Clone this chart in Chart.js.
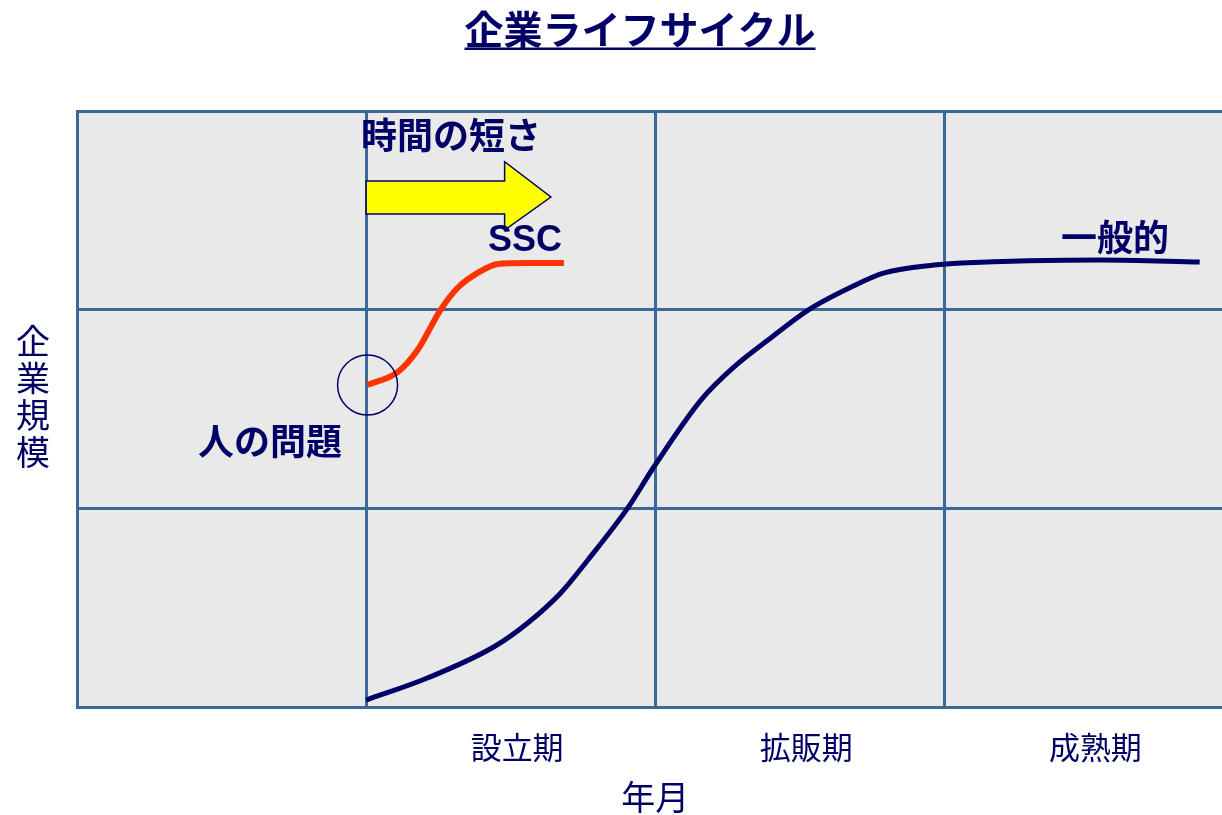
<!DOCTYPE html>
<html>
<head>
<meta charset="utf-8">
<script src="https://cdn.jsdelivr.net/npm/chart.js@4/dist/chart.umd.min.js"></script>
<style>
html,body{margin:0;padding:0;background:#fff;overflow:hidden;}
#wrap{width:1265px;height:815px;}
</style>
</head>
<body>
<div id="wrap"><canvas id="c" width="1265" height="815"></canvas></div>
<script>
// ---- data ----
const xTickLabels = ["", "設立期", "拡販期", "成熟期", ""];
const generalX = [1.00, 1.212, 1.441, 1.559, 1.673, 1.767, 1.905, 1.995, 2.158, 2.272, 2.390, 2.529, 2.678, 2.792, 2.965, 3.059, 3.544, 3.883];
const generalY = [0.035, 0.146, 0.302, 0.423, 0.574, 0.740, 1.002, 1.208, 1.545, 1.711, 1.847, 1.998, 2.114, 2.185, 2.225, 2.235, 2.250, 2.240];
const sscX = [1.005, 1.109, 1.178, 1.257, 1.316, 1.386, 1.455, 1.559, 1.684];
const sscY = [1.621, 1.686, 1.797, 1.998, 2.109, 2.185, 2.230, 2.235, 2.235];
const titleText = "企業ライフサイクル";
const xTitle = "年月";
const yTitle = "企業規模";

const NAVY = '#000066';
const GRID = '#3a6898';
const JP = "'Noto Sans CJK JP', 'Noto Sans', sans-serif";

const toPts = (xs, ys) => xs.map((x, i) => ({x, y: ys[i]}));

const annotPlugin = {
  id: 'annot',
  beforeDraw(chart) {
    const {ctx, chartArea: a} = chart;
    ctx.save();
    ctx.fillStyle = '#e9e9e9';
    ctx.fillRect(a.left, a.top, a.right - a.left, a.bottom - a.top);
    ctx.restore();
  },
  afterDraw(chart) {
    const {ctx} = chart;
    const xs = chart.scales.x, ys = chart.scales.y;
    const X = v => xs.getPixelForValue(v), Y = v => ys.getPixelForValue(v);
    ctx.save();
    // title
    ctx.fillStyle = NAVY;
    ctx.font = "bold 39px " + JP;
    ctx.textAlign = 'center';
    ctx.textBaseline = 'middle';
    const tw = ctx.measureText(titleText).width;
    ctx.fillText(titleText, 640, 29);
    ctx.fillRect(640 - tw / 2, 47.5, tw, 2.5);
    // y title, vertical stacked
    ctx.font = "34px " + JP;
    [...yTitle].forEach((ch, i) => ctx.fillText(ch, 33, 341 + i * 37));
    // arrow
    const sx0 = X(1.0), sx1 = X(1.479), tip = X(1.639);
    const sy0 = Y(2.648), sy1 = Y(2.482), hy0 = Y(2.745), hy1 = Y(2.401), ty = Y(2.567);
    ctx.beginPath();
    ctx.moveTo(sx0, sy0); ctx.lineTo(sx1, sy0); ctx.lineTo(sx1, hy0); ctx.lineTo(tip, ty);
    ctx.lineTo(sx1, hy1); ctx.lineTo(sx1, sy1); ctx.lineTo(sx0, sy1); ctx.closePath();
    ctx.fillStyle = '#ffff00'; ctx.fill();
    ctx.strokeStyle = NAVY; ctx.lineWidth = 1.5; ctx.stroke();
    // labels
    ctx.fillStyle = NAVY;
    ctx.font = "bold 36px " + JP;
    ctx.textAlign = 'left';
    ctx.fillText("時間の短さ", 361, 135);
    ctx.textAlign = 'center';
    ctx.fillText("一般的", 1115, 237);
    ctx.fillText("人の問題", 270, 441);
    ctx.font = "bold 36px 'Liberation Sans', Arial, sans-serif";
    ctx.fillText("SSC", 525, 241);
    ctx.restore();
  }
};

new Chart(document.getElementById('c'), {
  type: 'line',
  data: {
    datasets: [
      {
        label: '一般的',
        data: toPts(generalX, generalY),
        borderColor: NAVY,
        borderWidth: 5,
        cubicInterpolationMode: 'monotone',
        pointRadius: 0,
        fill: false
      },
      {
        label: 'SSC',
        data: toPts(sscX, sscY),
        borderColor: '#ff3300',
        borderWidth: 6,
        cubicInterpolationMode: 'monotone',
        pointRadius: ctx => ctx.dataIndex === 0 ? 30 : 0,
        pointBorderColor: NAVY,
        pointBackgroundColor: 'rgba(0,0,0,0)',
        pointBorderWidth: 1.5,
        fill: false
      }
    ]
  },
  options: {
    responsive: false,
    animation: false,
    events: [],
    layout: {padding: {top: 111, left: 0, right: 0, bottom: 0}},
    plugins: {legend: {display: false}, tooltip: {enabled: false}, title: {display: false}},
    scales: {
      x: {
        type: 'linear',
        min: 0, max: 4,
        afterFit: s => { s.height = 108; },
        afterBuildTicks: s => { s.ticks = [0,1,2,3,4].map(v => ({value: v})); },
        grid: {color: GRID, lineWidth: 3, drawTicks: false},
        border: {color: GRID, width: 3},
        ticks: {
          autoSkip: false,
          maxRotation: 0,
          labelOffset: 151,
          padding: 22,
          color: NAVY,
          font: {family: JP, size: 31},
          callback: v => xTickLabels[v] || ''
        },
        title: {display: true, text: xTitle, color: NAVY, font: {family: JP, size: 34, lineHeight: 1}, padding: {top: 0, bottom: 1}}
      },
      y: {
        type: 'linear',
        min: 0, max: 3,
        afterFit: s => { s.width = 77; },
        ticks: {display: false, stepSize: 1},
        grid: {color: GRID, lineWidth: 3, drawTicks: false},
        border: {color: GRID, width: 3}
      }
    }
  },
  plugins: [annotPlugin]
});
</script>
</body>
</html>
